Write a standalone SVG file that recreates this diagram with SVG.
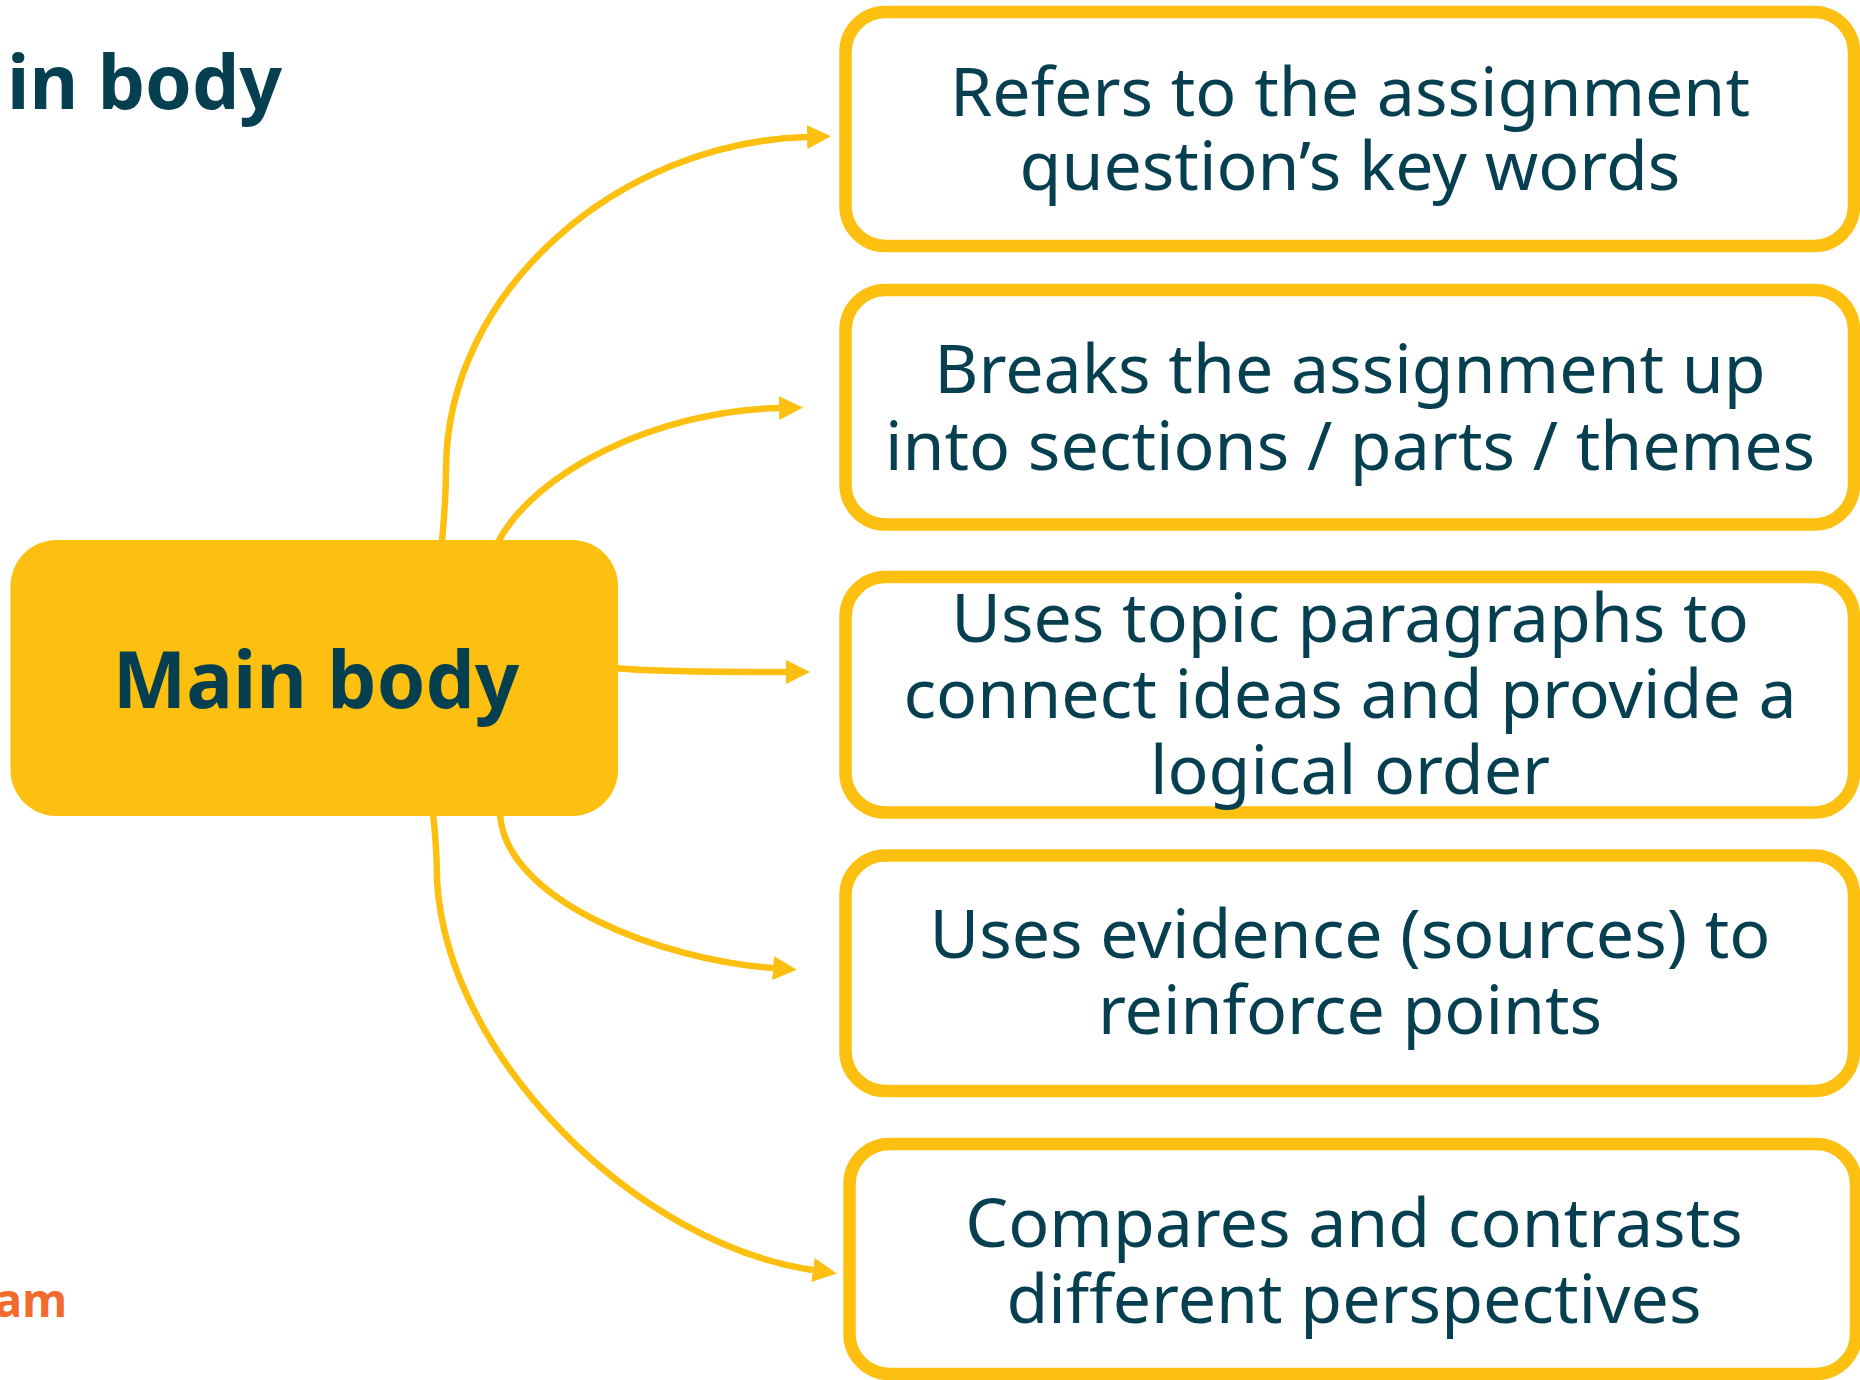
<svg xmlns="http://www.w3.org/2000/svg" width="1860" height="1380" viewBox="0 0 1860 1380">
<style>
.box{fill:#FFFFFF;stroke:#FDC010;stroke-width:12.5}
.main{fill:#FDC010}
.t{font-family:"Noto Sans","DejaVu Sans",sans-serif;font-size:68px;fill:#063F50;text-anchor:middle}
.mt{font-family:"Noto Sans","DejaVu Sans",sans-serif;font-weight:bold;font-size:78px;fill:#063F50;text-anchor:middle}
.conn{fill:none;stroke:#FDC010;stroke-width:6.5}
</style>
<defs>
<marker id="ah" markerUnits="userSpaceOnUse" markerWidth="25" markerHeight="25" refX="0" refY="12" orient="auto">
<path d="M0,0 L24,12 L0,24 Z" fill="#FDC010"/>
</marker>
</defs>
<rect width="1860" height="1380" fill="#FFFFFF"/>
<text x="7" y="109" font-family="'Noto Sans','DejaVu Sans',sans-serif" font-weight="bold" font-size="75" fill="#063F50">in body</text>
<text x="67" y="1317" font-family="'Noto Sans','DejaVu Sans',sans-serif" font-weight="bold" font-size="46" fill="#F26A2E" text-anchor="end">am</text>
<g id="connectors">
<path class="conn" marker-end="url(#ah)" d="M442,542 C444,515 446,500 446,470 C446,290 620,142 807,137"/>
<path class="conn" marker-end="url(#ah)" d="M498,542 C535,472 655,411 779,408"/>
<path class="conn" marker-end="url(#ah)" d="M616,668 C640,671 700,672 786,672"/>
<path class="conn" marker-end="url(#ah)" d="M500,814 C505,900 660,960 773,968"/>
<path class="conn" marker-end="url(#ah)" d="M433,814 C436,840 437,860 437,880 C447,1060 640,1245 813,1270"/>
</g>
<g id="main-body">
<rect class="main" x="10.5" y="540" width="607.5" height="276" rx="46"/>
<text class="mt" x="316" y="708">Main body</text>
</g>
<g id="node-1">
<rect class="box" x="845.5" y="12" width="1008.5" height="234" rx="40"/>
<text class="t" x="1350" y="116">Refers to the assignment</text>
<text class="t" x="1350" y="190">question’s key words</text>
</g>
<g id="node-2">
<rect class="box" x="845.5" y="290" width="1008.5" height="234.5" rx="40"/>
<text class="t" x="1350" y="393">Breaks the assignment up</text>
<text class="t" x="1350" y="470">into sections / parts / themes</text>
</g>
<g id="node-3">
<rect class="box" x="845.5" y="577" width="1008.5" height="235.5" rx="40"/>
<text class="t" x="1350" y="642">Uses topic paragraphs to</text>
<text class="t" x="1350" y="718">connect ideas and provide a</text>
<text class="t" x="1350" y="794">logical order</text>
</g>
<g id="node-4">
<rect class="box" x="845.5" y="855.5" width="1008.5" height="235.5" rx="40"/>
<text class="t" x="1350" y="958">Uses evidence (sources) to</text>
<text class="t" x="1350" y="1034">reinforce points</text>
</g>
<g id="node-5">
<rect class="box" x="849.5" y="1144" width="1006.5" height="230" rx="40"/>
<text class="t" x="1354" y="1247">Compares and contrasts</text>
<text class="t" x="1354" y="1323">different perspectives</text>
</g>
</svg>
